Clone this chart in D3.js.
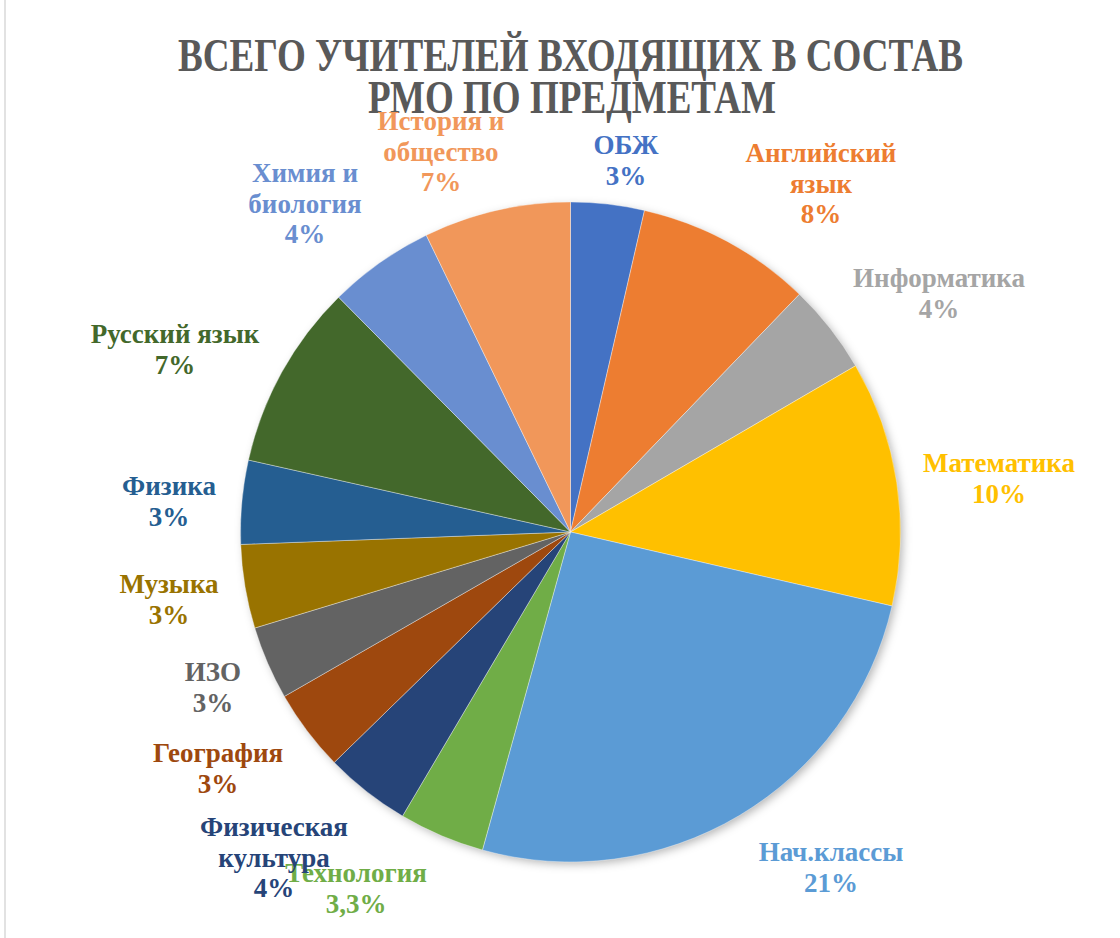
<!DOCTYPE html>
<html><head><meta charset="utf-8">
<script src="https://cdn.jsdelivr.net/npm/d3@7"></script>
<style>html,body{margin:0;padding:0;background:#fff;}svg{display:block;}</style>
</head><body>
<svg id="c" width="1120" height="938"></svg>
<script>
const subjects = ["ОБЖ","Английский язык","Информатика","Математика","Нач.классы","Технология","Физическая культура","География","ИЗО","Музыка","Физика","Русский язык","Химия и биология","История и общество"];
const values = [3.6, 8.6, 4.4, 12.0, 25.7, 4.2, 4.2, 4.0, 3.6, 4.1, 4.1, 9.1, 5.2, 7.2];
const percentLabels = ["3%","8%","4%","10%","21%","3,3%","4%","3%","3%","3%","3%","7%","4%","7%"];
const colors = ["#4472C4","#ED7D31","#A5A5A5","#FFC000","#5B9BD5","#70AD47","#264478","#9E480E","#636363","#997300","#255E91","#43682B","#698ED0","#F1975A"];
const labelLines = [["ОБЖ"],["Английский","язык"],["Информатика"],["Математика"],["Нач.классы"],["Технология"],["Физическая","культура"],["География"],["ИЗО"],["Музыка"],["Физика"],["Русский язык"],["Химия и","биология"],["История и","общество"]];
// label anchor (center x, center y of first line)
const labelPos = [[626,145],[821,153],[939,278],[999,463],[831,852],[356,873],[274,827],[218,753],[213,672],[169,584],[169,486],[175,334],[305,173],[441,121]];

const svg = d3.select("#c");
const cx = 570.5, cy = 532, R = 330;

svg.append("line").attr("x1",5).attr("x2",5).attr("y1",0).attr("y2",938).attr("stroke","#d9d9d9").attr("stroke-width",1.5);

const defs = svg.append("defs");
const f = defs.append("filter").attr("id","sh").attr("x","-20%").attr("y","-20%").attr("width","140%").attr("height","140%");
f.append("feDropShadow").attr("dx",3).attr("dy",3).attr("stdDeviation",5).attr("flood-color","#000").attr("flood-opacity",0.3);

const pie = d3.pie().sort(null).value(d=>d)(values);
const arc = d3.arc().innerRadius(0).outerRadius(R);
const g = svg.append("g").attr("transform",`translate(${cx},${cy})`);
g.append("circle").attr("r",R-1).attr("fill","#fff").attr("filter","url(#sh)");
g.selectAll("path").data(pie).join("path")
  .attr("d",arc).attr("fill",(d,i)=>colors[i])
  .attr("stroke","#fff").attr("stroke-width",0.6).attr("stroke-opacity",0.6);

// title
const title = svg.append("g").attr("font-family","Liberation Serif, Times New Roman, serif").attr("font-weight","bold").attr("fill","#595959").attr("font-size",46);
title.append("text").attr("x",570.5).attr("y",71).attr("text-anchor","middle").attr("textLength",785).attr("lengthAdjust","spacingAndGlyphs").text("ВСЕГО УЧИТЕЛЕЙ ВХОДЯЩИХ В СОСТАВ");
title.append("text").attr("x",572).attr("y",113).attr("text-anchor","middle").attr("textLength",408).attr("lengthAdjust","spacingAndGlyphs").text("РМО ПО ПРЕДМЕТАМ");

// labels
const lg = svg.append("g").attr("font-family","Liberation Serif, Times New Roman, serif").attr("font-weight","bold").attr("font-size",27).attr("text-anchor","middle");
subjects.forEach((s,i)=>{
  const lines = labelLines[i].concat([percentLabels[i]]);
  const t = lg.append("text").attr("fill",colors[i]);
  lines.forEach((ln,j)=>{
    t.append("tspan").attr("x",labelPos[i][0]).attr("y",labelPos[i][1]+9+j*30.5).text(ln);
  });
});
</script>
</body></html>
